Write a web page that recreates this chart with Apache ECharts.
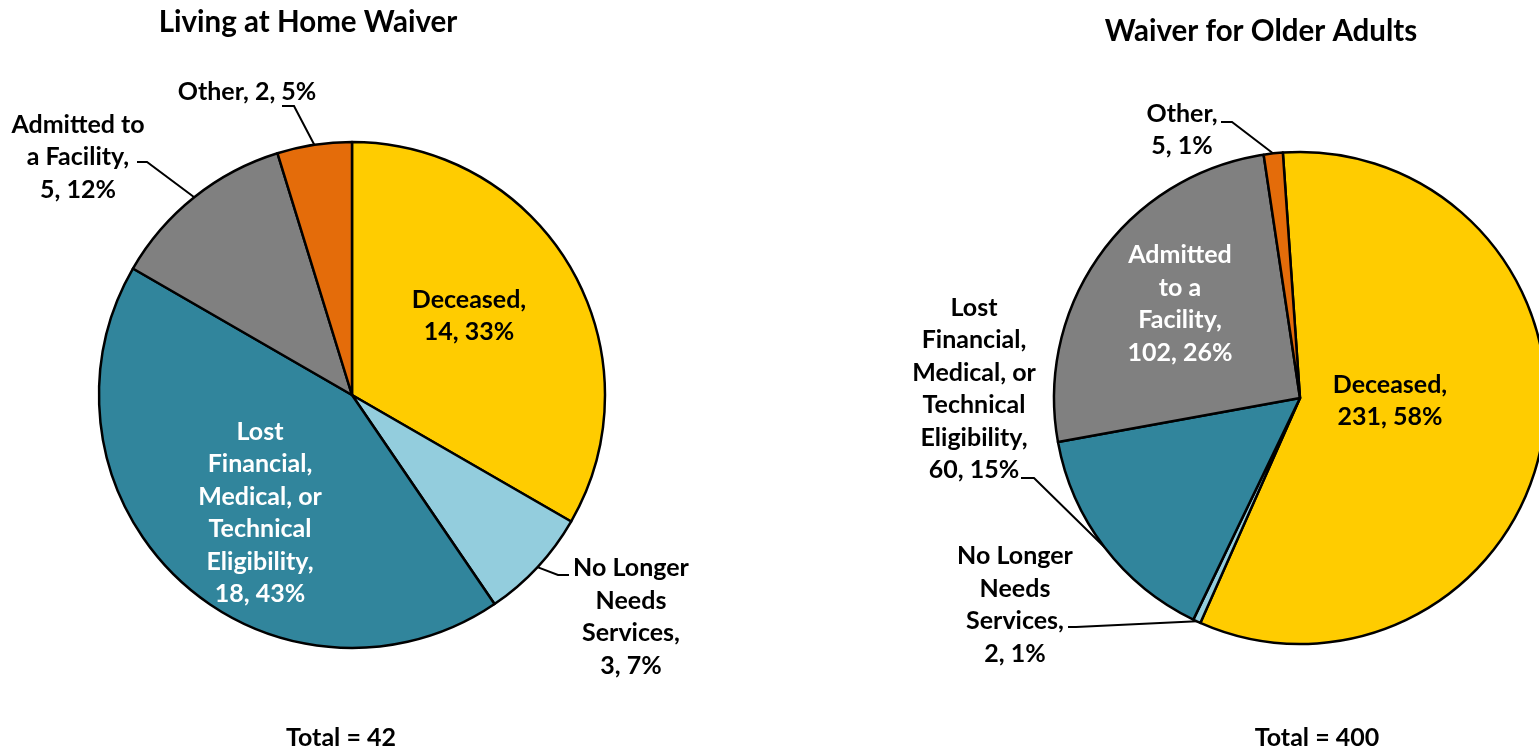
<!DOCTYPE html>
<html>
<head>
<meta charset="utf-8">
<script src="https://cdn.jsdelivr.net/npm/echarts@6/dist/echarts.min.js"></script>
<style>
  html, body { margin: 0; padding: 0; background: #fff; }
  #chart { width: 1539px; height: 750px; }
</style>
</head>
<body>
<div id="chart"></div>
<script>
// categories, clockwise from the top
const categories = ['Deceased', 'No Longer Needs Services', 'Lost Financial, Medical, or Technical Eligibility', 'Admitted to a Facility', 'Other']
const sliceColors = ['#FFCC00', '#93CDDD', '#31859C', '#808080', '#E46C0A']

// Living at Home Waiver
const homeValues = [14, 3, 18, 5, 2]
const homeLabelText = ['Deceased,\n', 'No Longer\nNeeds\nServices,\n', 'Lost\nFinancial,\nMedical, or\nTechnical\nEligibility,\n', 'Admitted to\na Facility,\n', 'Other, ']
const homeLabelInside = [true, false, true, false, false]
const homeLabelDark = [true, true, false, true, true]

// Waiver for Older Adults
const olderValues = [231, 2, 60, 102, 5]
const olderLabelText = ['Deceased,\n', 'No Longer\nNeeds\nServices,\n', 'Lost\nFinancial,\nMedical, or\nTechnical\nEligibility,\n', 'Admitted\nto a\nFacility,\n', 'Other,\n']
const olderLabelInside = [true, false, false, true, false]
const olderLabelDark = [true, true, true, false, true]

const titles = ['Living at Home Waiver', 'Waiver for Older Adults']
const totals = [42, 400]

// label centres, plus elbow / end of the leader line for outside labels
const labelLayouts = [
  [
    { x: 469, y: 316 },
    { x: 631, y: 617, elbow: [558, 575], end: [569, 575] },
    { x: 260, y: 513 },
    { x: 78, y: 157, elbow: [147, 162], end: [137, 162] },
    { x: 247, y: 92, elbow: [294, 106], end: [282, 106] }
  ],
  [
    { x: 1390, y: 401 },
    { x: 1015, y: 605, elbow: [1076, 627], end: [1068, 627] },
    { x: 974, y: 389, elbow: [1034, 478], end: [1021, 478] },
    { x: 1180, y: 304 },
    { x: 1182, y: 130, elbow: [1232, 122], end: [1221, 122] }
  ]
]

const FONT = 'Lato'
const titleStyle = { fontFamily: FONT, fontWeight: 'bold', fontSize: 29.5, color: '#000' }
const totalStyle = { fontFamily: FONT, fontWeight: 'bold', fontSize: 25, color: '#000' }

function buildData(values, inside, dark) {
  return values.map((v, i) => ({
    name: categories[i],
    value: v,
    itemStyle: { color: sliceColors[i] },
    label: {
      position: inside[i] ? 'inside' : 'outside',
      color: dark[i] ? '#000' : '#fff'
    },
    labelLine: { show: !inside[i] }
  }))
}

function pieSeries(idx, center, radius, startAngle, values, texts, inside, dark) {
  return {
    type: 'pie',
    center: center,
    radius: radius,
    startAngle: startAngle,
    clockwise: true,
    avoidLabelOverlap: false,
    animation: false,
    itemStyle: { borderColor: '#000', borderWidth: 2.5 },
    label: {
      fontFamily: FONT,
      fontWeight: 'bold',
      fontSize: 25,
      lineHeight: 32.5,
      align: 'center',
      formatter: p => texts[p.dataIndex] + p.value + ', ' + Math.round(p.percent) + '%'
    },
    labelLine: {
      length: 20,
      length2: 10,
      lineStyle: { color: '#000', width: 2 }
    },
    labelLayout: params => {
      const l = labelLayouts[idx][params.dataIndex]
      const out = { x: l.x, y: l.y, align: 'center', verticalAlign: 'middle' }
      if (l.elbow && params.labelLinePoints) {
        out.labelLinePoints = [params.labelLinePoints[0], l.elbow, l.end]
      }
      return out
    },
    emphasis: { disabled: true },
    data: buildData(values, inside, dark)
  }
}

const chart = echarts.init(document.getElementById('chart'))
chart.setOption({
  animation: false,
  title: [
    { text: titles[0], left: 303, top: 17, textAlign: 'center', textVerticalAlign: 'middle', textStyle: titleStyle },
    { text: titles[1], left: 1256, top: 26, textAlign: 'center', textVerticalAlign: 'middle', textStyle: titleStyle },
    { text: 'Total = ' + totals[0], left: 336, top: 733, textAlign: 'center', textVerticalAlign: 'middle', textStyle: totalStyle },
    { text: 'Total = ' + totals[1], left: 1312, top: 733, textAlign: 'center', textVerticalAlign: 'middle', textStyle: totalStyle }
  ],
  series: [
    pieSeries(0, [352, 395], 253, 90, homeValues, homeLabelText, homeLabelInside, homeLabelDark),
    pieSeries(1, [1300, 398], 246, 94, olderValues, olderLabelText, olderLabelInside, olderLabelDark)
  ]
})
</script>
</body>
</html>
